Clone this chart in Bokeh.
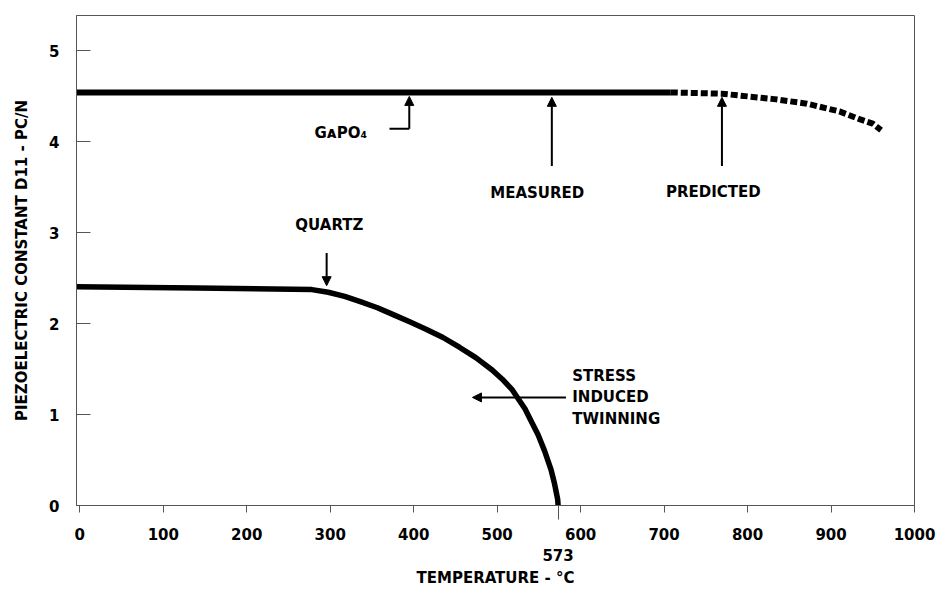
from bokeh.plotting import figure
from bokeh.models import ColumnDataSource, Arrow, NormalHead, FixedTicker, Range1d
from bokeh.embed import file_html
from bokeh.resources import INLINE
from bokeh.core.properties import value

# ---- data ----
x_ticks = [0, 100, 200, 300, 400, 500, 600, 700, 800, 900, 1000]
y_ticks = [0, 1, 2, 3, 4, 5]
transition_temp = 573

gapo4_meas_x = [-4, 708]
gapo4_meas_y = [4.544, 4.544]
gapo4_pred_x = [708, 769, 832, 871, 910, 934, 950, 960]
gapo4_pred_y = [4.544, 4.53, 4.47, 4.42, 4.335, 4.25, 4.2, 4.13]

quartz_x = [-4, 140, 278, 297.6, 317.3, 336.9, 356.5, 376.2, 395.8, 415.4, 435.1, 454.7, 474.4,
            494.0, 505.8, 517.6, 525.4, 533.3, 541.1, 549.0, 556.8, 564.7, 568.6, 572.5, 573]
quartz_y = [2.407, 2.392, 2.375, 2.346, 2.300, 2.239, 2.175, 2.097, 2.018, 1.937, 1.848, 1.741, 1.627,
            1.491, 1.392, 1.278, 1.171, 1.064, 0.922, 0.779, 0.601, 0.388, 0.245, 0.067, 0.0]

note_text = ["MEASURED", "PREDICTED", "QUARTZ", "STRESS", "INDUCED", "TWINNING"]
note_x = [548, 759, 299, 590, 590, 590]
note_y = [3.433, 3.45, 3.087, 1.427, 1.189, 0.957]
note_align = ["center", "center", "center", "left", "left", "left"]

gapo4_label = "G\u1d00PO\u2084"
gapo4_label_x = [344]
gapo4_label_y = [4.098]

arrow_x0 = [394.7, 565.5, 769.3, 295.7, 582.4]
arrow_y0 = [4.144, 3.735, 3.735, 2.777, 1.189]
arrow_x1 = [394.7, 565.5, 769.3, 295.7, 470.4]
arrow_y1 = [4.50, 4.49, 4.49, 2.418, 1.189]

elbow_x0 = [371]
elbow_x1 = [394.7]
elbow_y = [4.144]

FONT = "DejaVu Sans"

p = figure(width=936, height=590, output_backend="svg", toolbar_location=None,
           x_range=Range1d(-4, 1000), y_range=Range1d(0, 5.39),
           min_border_left=76, min_border_right=22, min_border_top=15, min_border_bottom=84)
p.background_fill_color = "white"
p.border_fill_color = "white"
p.outline_line_color = "#555555"
p.outline_line_width = 1
p.xgrid.visible = False
p.ygrid.visible = False

# axes
xa = p.xaxis[0]
xa.ticker = FixedTicker(ticks=sorted(x_ticks + [transition_temp]), minor_ticks=[transition_temp])
xa.major_label_overrides = {transition_temp: "\n" + str(transition_temp)}
xa.major_tick_in = 0
xa.major_tick_out = 7
xa.minor_tick_in = 0
xa.minor_tick_out = 14
xa.axis_line_color = "#555555"
xa.major_tick_line_color = "#555555"
xa.minor_tick_line_color = "#555555"
xa.major_label_text_font = FONT
xa.major_label_text_font_style = "bold"
xa.major_label_text_font_size = "15px"
xa.major_label_text_color = "black"
xa.major_label_standoff = 6
xa.axis_label = "TEMPERATURE - \u00b0C"
xa.axis_label_text_font = FONT
xa.axis_label_text_font_style = "bold"
xa.axis_label_text_font_size = "15px"
xa.axis_label_text_color = "black"
xa.axis_label_standoff = 1

ya = p.yaxis[0]
ya.ticker = FixedTicker(ticks=y_ticks, minor_ticks=[])
ya.major_tick_in = 14
ya.major_tick_out = 0
ya.minor_tick_in = 0
ya.minor_tick_out = 0
ya.axis_line_color = "#555555"
ya.major_tick_line_color = "#555555"
ya.major_label_text_font = FONT
ya.major_label_text_font_style = "bold"
ya.major_label_text_font_size = "15px"
ya.major_label_text_color = "black"
ya.major_label_standoff = 17
ya.axis_label = "PIEZOELECTRIC CONSTANT D11 - PC/N"
ya.axis_label_text_font = FONT
ya.axis_label_text_font_style = "bold"
ya.axis_label_text_font_size = "15px"
ya.axis_label_text_color = "black"
ya.axis_label_standoff = 15

# curves
p.line(gapo4_meas_x, gapo4_meas_y, line_color="black", line_width=6)
p.line(gapo4_pred_x, gapo4_pred_y, line_color="black", line_width=6, line_dash="7 3")
p.line(quartz_x, quartz_y, line_color="black", line_width=5.5, line_join="round")

# arrows
asrc = ColumnDataSource(dict(x0=arrow_x0, y0=arrow_y0, x1=arrow_x1, y1=arrow_y1))
p.add_layout(Arrow(source=asrc, x_start="x0", y_start="y0", x_end="x1", y_end="y1",
                   line_color="black", line_width=2,
                   end=NormalHead(size=9, fill_color="black", line_color="black", line_width=1)))
p.segment(x0=elbow_x0, y0=elbow_y, x1=elbow_x1, y1=elbow_y, line_color="black", line_width=2)

# annotation texts
nsrc = ColumnDataSource(dict(x=note_x, y=note_y, t=note_text, a=note_align))
p.text(x="x", y="y", text="t", text_align="a", source=nsrc, text_baseline="middle",
       text_font=value(FONT), text_font_style="bold", text_font_size="15px", text_color="black")
p.text(x=gapo4_label_x, y=gapo4_label_y, text=[gapo4_label], text_align="right", text_baseline="middle",
       text_font=value(FONT), text_font_style="bold", text_font_size="15px", text_color="black")

open("out.html", "w").write(file_html(p, INLINE))
